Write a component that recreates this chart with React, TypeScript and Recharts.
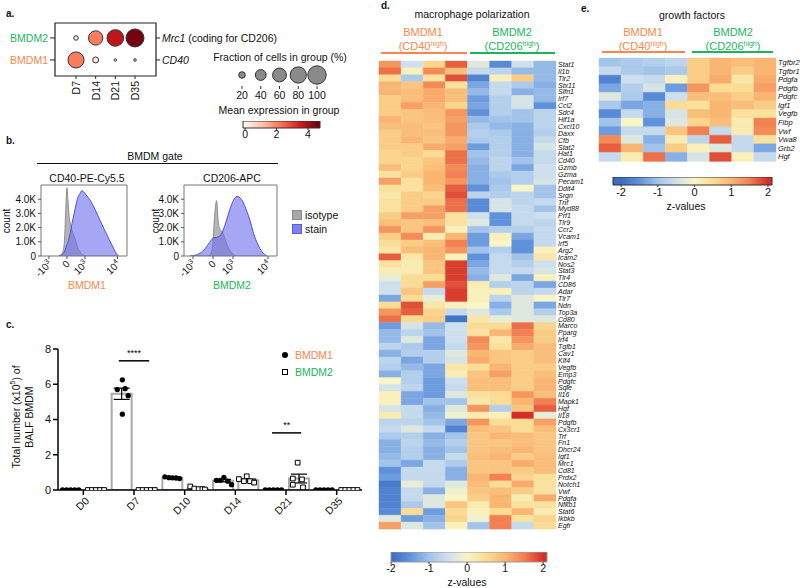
import React from "react";
import {
  ScatterChart,
  Scatter,
  XAxis,
  YAxis,
  ZAxis,
  Cell,
  ReferenceArea,
  ReferenceLine,
  ComposedChart,
  Area,
  BarChart,
  Bar,
  ErrorBar,
} from "recharts";

const FONT = '"Liberation Sans", Arial, sans-serif';
const ORANGE = "#f6884b";
const GREEN = "#1db55b";

// ---- panel a: dot plot ----
const dotDays = ["D7", "D14", "D21", "D35"];
const cd40Frac = [78, 18, 10, 10];
const cd40Expr = [2.1, 0.3, 0.1, 0.1];
const mrc1Frac = [14, 64, 83, 96];
const mrc1Expr = [0.3, 2.1, 3.7, 4.6];
const fracLegend = [20, 40, 60, 80, 100];
const exprTicks = [0, 2, 4];

// ---- panel b: histograms (x in logicle units, counts in K) ----
const cd40X = [-0.45, -0.3, -0.2, -0.12, -0.06, 0, 0.06, 0.12, 0.18, 0.28, 0.4, 0.5, 0.6, 0.72, 0.83, 0.94, 1.06, 1.3, 1.55, 1.8, 2.1, 2.4, 2.6, 2.75, 2.85];
const cd40Iso = [0, 0.1, 0.4, 1.5, 3.5, 4.8, 3.8, 2.8, 2.3, 1.8, 1.4, 1.0, 0.6, 0.3, 0.12, 0.05, 0, 0, 0, 0, 0, 0, 0, 0, 0];
const cd40Stain = [0, 0.1, 0.2, 0.35, 0.6, 0.8, 1.0, 1.3, 1.6, 2.3, 3.0, 3.6, 4.1, 4.4, 4.6, 4.5, 4.3, 3.9, 3.3, 2.6, 1.8, 1.0, 0.5, 0.15, 0];
const cd206X = [-1.15, -0.9, -0.65, -0.4, -0.25, -0.1, 0, 0.08, 0.18, 0.25, 0.33, 0.4, 0.5, 0.65, 0.8, 0.95, 1.1, 1.2, 1.35, 1.5, 1.65, 1.85, 2.05, 2.25, 2.45, 2.7];
const cd206Iso = [0, 0, 0, 0, 0, 0.2, 1.0, 2.8, 3.9, 2.6, 1.9, 1.8, 1.6, 1.0, 0.5, 0.2, 0.05, 0, 0, 0, 0, 0, 0, 0, 0, 0];
const cd206Stain = [0, 0.05, 0.2, 0.5, 0.8, 1.1, 1.25, 1.3, 1.3, 1.35, 1.4, 1.5, 1.8, 2.4, 3.1, 3.7, 4.1, 4.2, 4.1, 3.8, 3.3, 2.5, 1.5, 0.8, 0.3, 0];
const countTicks = [0, 1, 2, 3, 4];
const logBase = ["-10", "0", "10", "10"];
const logExp = ["3", "", "3", "4"];

// ---- panel c: BALF counts ----
const cDays = ["D0", "D7", "D10", "D14", "D21", "D35"];
const bmdm1Mean = [0, 5.46, 0.69, 0.53, 0, 0];
const bmdm1Sem = [0, 0.32, 0.02, 0.07, 0, 0];
const bmdm2Mean = [0, 0, 0.08, 0.56, 0.65, 0];
const bmdm2Sem = [0, 0, 0.03, 0.06, 0.25, 0];
const bmdm1Pts = [
  [0, 0, 0, 0, 0],
  [6.25, 5.7, 5.75, 5.35, 4.3],
  [0.75, 0.7, 0.69, 0.68, 0.65],
  [0.55, 0.55, 0.72, 0.5, 0.3],
  [0, 0, 0, 0, 0],
  [0, 0, 0, 0, 0],
];
const bmdm1Jit = [
  [-0.32, -0.16, 0, 0.16, 0.32],
  [0.04, -0.16, 0.15, 0.27, 0.04],
  [-0.28, -0.12, 0.02, 0.16, 0.3],
  [-0.25, -0.1, 0.05, 0.2, 0.35],
  [-0.32, -0.16, 0, 0.16, 0.32],
  [-0.32, -0.16, 0, 0.16, 0.32],
];
const bmdm2Pts = [
  [0, 0, 0, 0, 0],
  [0, 0, 0, 0, 0],
  [0.2, 0.08, 0.05, 0.05, 0.03],
  [0.62, 0.78, 0.5, 0.5, 0.42],
  [1.55, 0.65, 0.6, 0.3, 0.15],
  [0, 0, 0, 0, 0],
];
const bmdm2Jit = [
  [-0.32, -0.16, 0, 0.16, 0.32],
  [-0.32, -0.16, 0, 0.16, 0.32],
  [-0.28, -0.12, 0.05, 0.2, 0.3],
  [-0.36, -0.05, -0.16, 0.08, 0.24],
  [-0.04, -0.23, 0.13, -0.23, 0.17],
  [-0.32, -0.16, 0, 0.16, 0.32],
];

// ---- panel d: macrophage polarization heatmap ----
const genesD = [
  "Stat1", "Il1b", "Tlr2", "Stx11", "Slfn1", "Irf7", "Ccl2", "Sdc4", "Hif1a", "Cxcl10",
  "Daxx", "Cfb", "Stat2", "Hat1", "Cd40", "Gzmb", "Gzma", "Pecam1", "Ddit4", "Srgn",
  "Tnf", "Myd88", "Prf1", "Tlr9", "Ccr2", "Vcam1", "Irf5", "Arg2", "Icam2", "Nos2",
  "Stat3", "Tlr4", "CD86", "Adar", "Tlr7", "Ndn", "Top3a", "Cd80", "Marco", "Pparg",
  "Irf4", "Tgfb1", "Cav1", "Klf4", "Vegfb", "Emp3", "Pdgfc", "Sqle", "Il16", "Mapk1",
  "Hgf", "Il18", "Pdgfb", "Cx3cr1", "Trf", "Fn1", "Dhcr24", "Igf1", "Mrc1", "Cd81",
  "Prdx2", "Notch1", "Vwf", "Pdgfa", "Nfkb1", "Stat6", "Ikbkb", "Egfr",
];
const zD = [
  [1.3, -0.5, 0.6, 1.7, -0.3, -1.6, -0.5, -1.1],
  [1.6, 0.1, 1.4, 0.9, -0.6, -0.7, -1.1, -1.1],
  [0.5, -0.9, 0.4, 1.8, -1.7, 0.1, 0.7, -1.1],
  [1.0, 0.8, 1.4, 0.4, -1.3, -0.6, -0.9, -1.2],
  [1.0, 0.9, 1.1, 0.9, -1.1, -0.6, -1.2, -1.1],
  [0.7, 0.9, 1.1, 0.9, -1.4, -0.8, -0.4, -1.1],
  [0.7, 1.2, 1.0, 0.6, -1.3, -0.8, -0.4, -1.5],
  [0.7, 0.8, 0.9, 1.3, -1.5, -0.8, -1.0, -0.7],
  [1.0, 0.8, 0.9, 1.2, -1.1, -1.0, -1.0, -0.7],
  [0.9, 0.9, 0.8, 1.3, -0.9, -1.1, -1.2, -0.7],
  [0.7, 0.9, 0.9, 1.3, -0.8, -0.9, -1.2, -0.8],
  [0.7, 1.0, 0.8, 1.1, -0.9, -0.8, -1.2, -0.6],
  [0.7, 0.7, 1.1, 1.2, -1.4, -0.8, -1.2, -0.4],
  [0.6, 0.7, 0.5, 1.6, -1.0, -0.8, -1.2, -0.6],
  [0.6, 0.6, 0.8, 1.6, -1.1, -0.7, -1.0, -0.6],
  [0.9, 0.6, 0.9, 1.4, -1.2, -0.7, -1.3, -0.5],
  [0.4, 0.7, 1.0, 1.5, -1.2, -0.9, -0.8, -0.5],
  [1.2, 0.4, 1.0, 1.3, -1.2, -1.0, -0.8, -0.4],
  [0.4, 0.4, 0.9, 1.7, -1.5, -0.9, 0.0, -1.0],
  [0.3, 0.7, 0.6, 1.8, -0.7, -0.8, -0.7, -1.0],
  [0.4, 0.7, 0.7, 1.6, -1.6, -0.4, -0.7, -0.6],
  [0.4, 0.7, 1.2, 1.6, -1.6, -0.4, -0.6, -1.0],
  [0.7, 1.2, 1.2, 0.4, -0.5, -1.5, -0.6, -0.5],
  [0.9, 0.8, 0.9, 0.4, -0.3, -1.5, -0.6, -0.7],
  [1.3, 0.8, 1.3, 0.1, -1.0, -0.8, -0.8, -0.6],
  [0.7, 1.4, 0.2, 1.0, -1.4, 0.1, -1.3, -0.6],
  [0.5, 0.7, 0.9, 1.5, -1.4, 0.0, -1.5, -0.6],
  [0.3, 0.9, 1.0, 1.3, -1.0, -0.8, -1.5, 0.1],
  [1.7, 0.3, 1.0, 0.1, -1.5, -0.6, -1.0, 0.3],
  [0.4, 0.2, 0.8, 1.9, -1.3, -0.6, -0.8, -0.5],
  [0.2, 0.2, 0.8, 1.9, -1.1, -0.6, -0.6, -0.4],
  [-0.2, 0.5, 0.5, 1.9, -1.2, -0.3, -1.3, 0.1],
  [-0.5, 0.5, 1.2, 1.8, 0.2, -0.8, -0.7, -1.3],
  [-0.5, 0.8, -0.6, 1.9, 0.1, 0.1, -0.7, -0.6],
  [-1.3, 0.5, -0.2, 1.9, 0.1, -0.7, -0.3, 0.0],
  [0.5, 1.8, 0.3, 0.1, 0.0, -1.2, -0.3, -1.3],
  [1.3, 1.7, 0.6, -0.6, -0.3, -0.9, -0.3, -0.8],
  [1.6, 0.5, 0.7, -1.9, 0.3, -0.2, -0.3, -0.3],
  [-1.4, -0.4, -1.1, -0.5, 0.5, 0.5, 1.6, 0.6],
  [-1.1, -0.7, -1.0, -0.5, 0.4, 1.0, 1.5, 0.7],
  [-1.1, -0.3, -1.3, -0.5, 1.4, 0.3, 1.3, 0.7],
  [-0.7, -0.9, -1.3, -0.6, 1.3, 0.4, 1.1, 0.9],
  [-1.2, -0.8, -0.8, -0.3, 1.0, 0.8, 0.7, 0.9],
  [-0.7, -1.3, -0.8, -0.4, 1.1, 0.8, 0.7, 0.9],
  [-0.8, -1.1, -1.3, 0.3, 0.5, 1.0, 0.7, 0.7],
  [-1.2, -0.8, -1.3, 0.2, 0.8, 1.2, 0.7, 0.9],
  [0.0, -0.8, -1.4, -0.5, 0.9, 0.9, 0.7, 1.0],
  [-0.4, -0.7, -1.4, -0.6, 0.9, 0.9, 0.7, 1.0],
  [0.1, -1.3, -1.4, -0.3, 0.4, 0.5, 1.3, 0.9],
  [0.1, -1.3, -1.0, -1.0, 0.3, 0.5, 1.0, 1.5],
  [-0.4, -0.6, -1.2, -0.3, 1.3, -0.8, 0.8, 1.7],
  [0.2, -0.6, -1.1, -0.1, 0.2, 0.1, 2.0, -0.2],
  [-0.7, -0.7, -1.0, -1.3, 1.3, 0.5, 0.5, 1.2],
  [-0.6, -0.3, -0.6, -1.7, 0.9, 0.8, 0.5, 0.9],
  [-0.9, -0.8, -1.2, -1.0, 0.8, 1.0, 0.9, 0.8],
  [-1.2, -0.7, -1.1, -0.8, 0.8, 0.8, 0.9, 0.8],
  [-1.2, -0.8, -1.2, -1.0, 0.8, 0.9, 1.0, 0.8],
  [-1.1, -0.8, -1.2, -0.6, 0.9, 1.0, 0.7, 0.9],
  [-1.0, -1.3, -0.6, -0.9, 0.8, 0.8, 1.1, 0.9],
  [-1.5, -0.6, -0.6, -1.2, 0.8, 0.8, 0.7, 0.9],
  [-1.4, -0.6, -0.6, -1.2, 1.0, 1.5, 0.6, 0.4],
  [-1.8, -0.2, -0.6, -0.3, 0.9, 0.5, 1.1, 0.4],
  [-1.7, -0.6, -1.2, -0.1, 0.8, 0.9, 0.7, 0.4],
  [-1.7, -0.6, -0.3, 0.0, 0.7, 1.0, 0.2, 1.1],
  [-1.7, -0.9, -0.3, 0.8, 0.2, 1.0, 0.4, 0.4],
  [-1.6, 0.5, -1.4, 0.5, 0.1, 0.5, 1.0, 0.2],
  [-0.3, -1.4, -1.2, 0.6, -0.1, 1.5, 0.4, 0.6],
  [1.2, -0.3, -1.0, 0.1, -1.0, 1.5, -0.6, 0.5],
];

// ---- panel e: growth factors heatmap ----
const genesE = ["Tgfbr2", "Tgfbr1", "Pdgfa", "Pdgfb", "Pdgfc", "Igf1", "Vegfb", "Fibp", "Vwf", "Vwa8", "Grb2", "Hgf"];
const zE = [
  [-1.0, -0.9, -0.8, -0.7, 0.7, 1.0, 0.9, 1.0],
  [-0.6, -0.9, -1.0, -0.9, 0.7, 1.0, 0.7, 1.0],
  [-1.7, -0.5, -0.6, 0.1, 0.7, 1.1, 0.3, 1.1],
  [-1.3, -0.8, -0.4, -1.4, 1.3, 0.5, 0.5, 1.2],
  [-0.3, -0.9, -1.6, -0.5, 0.9, 0.9, 0.7, 1.0],
  [-0.9, -1.3, -1.2, 0.5, 0.4, 1.0, 0.9, 0.7],
  [-1.6, -0.6, -1.2, -0.4, 0.9, 1.0, 0.4, 0.4],
  [-1.0, 0.0, -1.5, -0.3, 0.6, 0.9, 0.2, 1.5],
  [-1.4, -0.6, -0.6, 0.8, 1.5, -0.6, 0.2, 1.4],
  [1.4, -0.3, -1.2, 0.2, -0.7, 1.7, -0.6, 0.4],
  [1.7, 1.0, -1.0, 0.7, 0.1, -0.3, -0.6, -1.3],
  [-0.6, 0.2, 1.6, -1.2, -0.4, 1.8, 0.1, -0.6],
];
const zTicks = [-2, -1, 0, 1, 2];

// colour maps
const zStops: [number, number[]][] = [
  [-2, [58, 108, 192]],
  [-1.5, [96, 146, 220]],
  [-1, [163, 196, 234]],
  [-0.5, [206, 224, 238]],
  [0, [248, 245, 198]],
  [0.5, [251, 220, 148]],
  [1, [249, 182, 115]],
  [1.5, [242, 128, 82]],
  [2, [212, 46, 38]],
];
const redStops: [number, number[]][] = [
  [0, [255, 245, 240]],
  [1.19, [252, 187, 161]],
  [2.38, [251, 106, 74]],
  [3.57, [203, 24, 29]],
  [4.76, [103, 0, 13]],
];

const rgb = (c: number[]) => `rgb(${c.map((v) => Math.round(v)).join(",")})`;

function ramp(stops: [number, number[]][], v: number) {
  if (v <= stops[0][0]) return rgb(stops[0][1]);
  for (let i = 1; i < stops.length; i++) {
    if (v <= stops[i][0]) {
      const [a, ca] = stops[i - 1];
      const [b, cb] = stops[i];
      const t = (v - a) / (b - a);
      return rgb(ca.map((c, k) => c + (cb[k] - c) * t));
    }
  }
  return rgb(stops[stops.length - 1][1]);
}

// absolutely placed text, y = vertical centre
function Txt({ x, y, size = 10.5, color = "#111", anchor = "middle", bold = false, rotate = 0, children }: any) {
  const tx = anchor === "middle" ? "-50%" : anchor === "end" ? "-100%" : "0";
  return (
    <div
      style={{
        position: "absolute",
        left: x,
        top: y,
        fontSize: size,
        color,
        fontWeight: bold ? 700 : 400,
        whiteSpace: "nowrap",
        lineHeight: 1,
        transform: `translate(${tx}, -50%)` + (rotate ? ` rotate(${rotate}deg)` : ""),
      }}
    >
      {children}
    </div>
  );
}

function HLine({ x1, x2, y, color = "#111", w = 1 }: any) {
  return <div style={{ position: "absolute", left: x1, top: y - w / 2, width: x2 - x1, height: w, background: color }} />;
}

// gradient bar drawn as a filled area over the value axis; pad keeps end labels inside the svg
function ColorBar({ id, left, top, width, barH, axisH, domain, ticks, stops, stroke, fontSize }: any) {
  const pad = 10;
  const span = domain[1] - domain[0];
  const rows = [
    { v: domain[0], h: 1 },
    { v: domain[1], h: 1 },
  ];
  return (
    <div style={{ position: "absolute", left: left - pad, top }}>
      <ComposedChart width={width + 2 * pad} height={barH + axisH} data={rows} margin={{ top: 0, right: pad, left: pad, bottom: 0 }}>
        <defs>
          <linearGradient id={id} x1="0" x2="1" y1="0" y2="0">
            {stops.map(([v, c]: any, i: number) => (
              <stop key={i} offset={Math.min(1, Math.max(0, (v - domain[0]) / span))} stopColor={rgb(c)} />
            ))}
          </linearGradient>
        </defs>
        <XAxis dataKey="v" type="number" domain={domain} ticks={ticks} interval={0} height={axisH} tickSize={2} tickMargin={1} axisLine={false} tickLine={{ stroke: "#333" }} tick={{ fontSize, fill: "#111" }} allowDataOverflow />
        <YAxis hide type="number" domain={[0, 1]} allowDataOverflow />
        <Area type="linear" dataKey="h" stroke="none" fill={`url(#${id})`} fillOpacity={1} isAnimationActive={false} dot={false} activeDot={false} />
        <ReferenceArea x1={domain[0]} x2={domain[1]} y1={0} y2={1} fill="none" stroke={stroke} strokeWidth={1} ifOverflow="visible" />
      </ComposedChart>
    </div>
  );
}

function Heatmap({ genes, z, left, top, width, height, margin, labelW, fontSize }: any) {
  const cols = [0, 1, 2, 3, 4, 5, 6, 7];
  const rows = genes.map((g: string) => {
    const r: any = { gene: g };
    cols.forEach((c) => (r["w" + c] = 1));
    return r;
  });
  return (
    <div style={{ position: "absolute", left, top }}>
      <BarChart layout="vertical" width={width} height={height} data={rows} margin={margin} barCategoryGap={0} barGap={0}>
        <XAxis type="number" domain={[0, 8]} hide />
        <YAxis type="category" dataKey="gene" orientation="right" width={labelW} interval={0} tickLine={false} axisLine={false} tickSize={0} tickMargin={2} tick={{ fontSize, fontStyle: "italic", fill: "#111" }} />
        {cols.map((c) => (
          <Bar key={c} dataKey={"w" + c} stackId="h" isAnimationActive={false}>
            {z.map((row: number[], i: number) => (
              <Cell key={i} fill={ramp(zStops, row[c])} stroke={ramp(zStops, row[c])} strokeWidth={0.4} />
            ))}
          </Bar>
        ))}
      </BarChart>
    </div>
  );
}

function GroupHeader({ c1, c2, l1, l2, r1, r2, lineY }: any) {
  return (
    <>
      <Txt x={c1} y={32} size={11} color={ORANGE}>BMDM1</Txt>
      <Txt x={c1} y={46} size={11} color={ORANGE}>(CD40<sup style={{ fontSize: 7 }}>high</sup>)</Txt>
      <Txt x={c2} y={32} size={11} color={GREEN}>BMDM2</Txt>
      <Txt x={c2} y={46} size={11} color={GREEN}>(CD206<sup style={{ fontSize: 7 }}>high</sup>)</Txt>
      <HLine x1={l1} x2={l2} y={lineY} color={ORANGE} w={2} />
      <HLine x1={r1} x2={r2} y={lineY} color={GREEN} w={2} />
    </>
  );
}

function PanelA() {
  const pts = [
    ...dotDays.map((_, i) => ({ x: i, y: 0, frac: cd40Frac[i], expr: cd40Expr[i] })),
    ...dotDays.map((_, i) => ({ x: i, y: 1, frac: mrc1Frac[i], expr: mrc1Expr[i] })),
  ];
  const leg = fracLegend.map((f) => ({ x: f, y: 0, frac: f }));
  const dayTick = ({ x, y, payload }: any) => (
    <text x={x} y={y} dy={4} transform={`rotate(-90 ${x} ${y})`} textAnchor="end" fontSize={10.5} fill="#111">
      {dotDays[payload.value]}
    </text>
  );
  const leftTick = ({ x, y, payload }: any) => (
    <text x={x} y={y} dy={4} textAnchor="end" fontSize={10.5} fill={payload.value === 1 ? GREEN : ORANGE}>
      {payload.value === 1 ? "BMDM2" : "BMDM1"}
    </text>
  );
  const rightTick = ({ x, y, payload }: any) => (
    <text x={x} y={y} dy={4} textAnchor="start" fontSize={10.5} fill="#111">
      {payload.value === 1 ? (
        <>
          <tspan fontStyle="italic">Mrc1</tspan> (coding for CD206)
        </>
      ) : (
        <tspan fontStyle="italic">CD40</tspan>
      )}
    </text>
  );
  return (
    <>
      <Txt x={6} y={14} size={10} bold anchor="start">a.</Txt>
      <div style={{ position: "absolute", left: 0, top: 0 }}>
        <ScatterChart width={360} height={115} margin={{ top: 23, right: 0, left: 0, bottom: 0 }}>
          <XAxis type="number" dataKey="x" domain={[-1.07, 4.07]} ticks={[0, 1, 2, 3]} interval={0} tick={dayTick} tickSize={3} tickLine={{ stroke: "#222" }} axisLine={false} height={39} allowDataOverflow />
          <YAxis type="number" dataKey="y" domain={[-0.73, 1.68]} ticks={[0, 1]} interval={0} tick={leftTick} width={55} tickSize={5} tickLine={{ stroke: "#222" }} axisLine={false} allowDataOverflow />
          <YAxis yAxisId="r" orientation="right" type="number" domain={[-0.73, 1.68]} ticks={[0, 1]} interval={0} tick={rightTick} width={204} tickSize={4} tickLine={{ stroke: "#222" }} axisLine={false} allowDataOverflow />
          <ZAxis type="number" dataKey="frac" domain={[10, 100]} range={[5, 266]} />
          <ReferenceArea x1={-1.07} x2={4.07} y1={-0.73} y2={1.68} fill="none" stroke="#222" strokeWidth={1.2} ifOverflow="visible" />
          <Scatter data={pts} shape="circle" stroke="#333" strokeWidth={1} isAnimationActive={false}>
            {pts.map((p, i) => (
              <Cell key={i} fill={ramp(redStops, p.expr)} />
            ))}
          </Scatter>
        </ScatterChart>
      </div>
      <Txt x={280} y={57}>Fraction of cells in group (%)</Txt>
      <div style={{ position: "absolute", left: 225, top: 62 }}>
        <ScatterChart width={110} height={45} margin={{ top: 2, right: 0, left: 0, bottom: 0 }}>
          <XAxis type="number" dataKey="x" domain={[1.87, 119.2]} ticks={fracLegend} interval={0} axisLine={false} tickSize={3} tickMargin={3} height={21} tick={{ fontSize: 10.5, fill: "#111" }} tickLine={{ stroke: "#333" }} allowDataOverflow />
          <YAxis type="number" dataKey="y" domain={[-1, 1]} hide />
          <ZAxis type="number" dataKey="frac" domain={[10, 100]} range={[5, 266]} />
          <Scatter data={leg} shape="circle" fill="#8a8a8a" stroke="#333" strokeWidth={1} isAnimationActive={false} />
        </ScatterChart>
      </div>
      <Txt x={279} y={110}>Mean expression in group</Txt>
      <ColorBar id="redsBar" left={243} top={121} width={77} barH={7} axisH={17} domain={[-0.13, 4.76]} ticks={exprTicks} stops={redStops} stroke="#333" fontSize={10.5} />
    </>
  );
}

function Histogram({ left, width, yW, xs, iso, stain, domain, ticks }: any) {
  const rows = xs.map((x: number, i: number) => ({ x, iso: iso[i], stain: stain[i] }));
  const logTick = ({ x, y, index }: any) => (
    <g transform={`translate(${x},${y}) rotate(-45)`}>
      <text x={0} y={0} dy={5} textAnchor="end" fontSize={10} fill="#111">
        {logBase[index]}
        {logExp[index] ? (
          <tspan dy={-4} fontSize={7}>
            {logExp[index]}
          </tspan>
        ) : null}
      </text>
    </g>
  );
  return (
    <div style={{ position: "absolute", left, top: 175 }}>
      <ComposedChart width={width} height={115} data={rows} margin={{ top: 10, right: 8, left: 0, bottom: 0 }}>
        <XAxis type="number" dataKey="x" domain={domain} ticks={ticks} interval={0} tick={logTick} tickSize={3} height={34} axisLine={false} tickLine={{ stroke: "#555" }} allowDataOverflow />
        <YAxis type="number" domain={[0, 5]} ticks={countTicks} interval={0} tickFormatter={(v: number) => (v === 0 ? "0" : v.toFixed(1) + "K")} width={yW} tickSize={3} axisLine={false} tickLine={{ stroke: "#555" }} tick={{ fontSize: 10, fill: "#111" }} allowDataOverflow />
        <Area type="monotone" dataKey="iso" stroke="#8d8d8d" strokeWidth={1} fill="#a8a8a8" fillOpacity={0.85} isAnimationActive={false} dot={false} activeDot={false} />
        <Area type="monotone" dataKey="stain" stroke="#4f4fdc" strokeWidth={1} fill="#6f6fee" fillOpacity={0.62} isAnimationActive={false} dot={false} activeDot={false} />
        <ReferenceArea x1={domain[0]} x2={domain[1]} y1={0} y2={5} fill="none" stroke="#777" strokeWidth={1} ifOverflow="visible" />
      </ComposedChart>
    </div>
  );
}

function PanelB() {
  return (
    <>
      <Txt x={6} y={141} size={10} bold anchor="start">b.</Txt>
      <Txt x={155} y={156}>BMDM gate</Txt>
      <HLine x1={37} x2={278} y={163} />
      <Txt x={87} y={178}>CD40-PE-Cy5.5</Txt>
      <Txt x={232} y={178}>CD206-APC</Txt>
      <Txt x={7} y={221} size={10} rotate={-90}>count</Txt>
      <Txt x={156} y={221} size={10} rotate={-90}>count</Txt>
      <Histogram left={0} width={135} yW={41} xs={cd40X} iso={cd40Iso} stain={cd40Stain} domain={[-1.44, 3.33]} ticks={[-1, 0, 1, 2.8]} />
      <Histogram left={140} width={145} yW={44} xs={cd206X} iso={cd206Iso} stain={cd206Stain} domain={[-1.45, 3.2]} ticks={[-1, 0, 1, 2.75]} />
      <Txt x={87} y={285} color={ORANGE}>BMDM1</Txt>
      <Txt x={232} y={285} color={GREEN}>BMDM2</Txt>
      <div style={{ position: "absolute", left: 292, top: 210, width: 10, height: 10, background: "#a8a8a8", border: "1px solid #8d8d8d", boxSizing: "border-box" }} />
      <Txt x={305} y={215} anchor="start">isotype</Txt>
      <div style={{ position: "absolute", left: 292, top: 224, width: 10, height: 10, background: "#8080f0", border: "1px solid #5b5bdc", boxSizing: "border-box" }} />
      <Txt x={305} y={229} anchor="start">stain</Txt>
    </>
  );
}

function PanelC() {
  // 12 slots: each day has a BMDM1 slot then a BMDM2 slot; slot k is centred on x = k + 0.5
  const slots = cDays.flatMap((d, i) => [
    { slot: d + "-1", y: bmdm1Mean[i], sem: bmdm1Sem[i] },
    { slot: d + "-2", y: bmdm2Mean[i], sem: bmdm2Sem[i] },
  ]);
  const pts1 = bmdm1Pts.flatMap((vals, i) => vals.map((v, k) => ({ x: 2 * i + 0.5 + bmdm1Jit[i][k], y: v })));
  const pts2 = bmdm2Pts.flatMap((vals, i) => vals.map((v, k) => ({ x: 2 * i + 1.5 + bmdm2Jit[i][k], y: v })));
  const dayTick = ({ x, y, index }: any) => (
    <g transform={`translate(${x + 3},${y + 1}) rotate(-45)`}>
      <text x={0} y={0} dy={5} textAnchor="end" fontSize={10.5} fill="#111">
        {cDays[index]}
      </text>
    </g>
  );
  return (
    <>
      <Txt x={6} y={325} size={10} bold anchor="start">c.</Txt>
      <div
        style={{
          position: "absolute",
          left: 21,
          top: 417,
          fontSize: 10.5,
          lineHeight: "13px",
          textAlign: "center",
          whiteSpace: "nowrap",
          transform: "translate(-50%, -50%) rotate(-90deg)",
        }}
      >
        Total number (x10<sup style={{ fontSize: 7 }}>5</sup>) of
        <br />
        BALF BMDM
      </div>
      <div style={{ position: "absolute", left: 0, top: 330 }}>
        <ComposedChart width={370} height={210} data={slots} margin={{ top: 19, right: 8, left: 0, bottom: 0 }}>
          <XAxis xAxisId="num" dataKey="x" type="number" domain={[0, 12]} ticks={[1, 3, 5, 7, 9, 11]} interval={0} tick={dayTick} height={50} tickSize={5} axisLine={{ stroke: "#000", strokeWidth: 1.5 }} tickLine={{ stroke: "#000", strokeWidth: 1.5 }} allowDataOverflow />
          <XAxis xAxisId="cat" dataKey="slot" type="category" hide height={0} />
          <YAxis dataKey="y" type="number" domain={[0, 8]} ticks={[0, 2, 4, 6, 8]} interval={0} width={58} tickSize={5} axisLine={{ stroke: "#000", strokeWidth: 1.5 }} tickLine={{ stroke: "#000", strokeWidth: 1.5 }} tick={{ fontSize: 11, fill: "#111" }} allowDataOverflow />
          <ZAxis range={[22, 22]} />
          <Bar xAxisId="cat" dataKey="y" fill="#fff" stroke="#a9a9a9" strokeWidth={2} barSize={20} isAnimationActive={false}>
            <ErrorBar dataKey="sem" width={8} stroke="#000" strokeWidth={1.2} direction="y" />
          </Bar>
          <Scatter xAxisId="num" data={pts1} shape="circle" fill="#000" isAnimationActive={false} />
          <Scatter xAxisId="num" data={pts2} shape="square" fill="#fff" stroke="#000" strokeWidth={1} isAnimationActive={false} />
          <ReferenceLine xAxisId="num" segment={[{ x: 2.4, y: 7.33 }, { x: 3.6, y: 7.33 }]} stroke="#000" strokeWidth={1.5} ifOverflow="visible" label={{ value: "****", position: "top", fontSize: 9, fill: "#000" }} />
          <ReferenceLine xAxisId="num" segment={[{ x: 8.45, y: 3.24 }, { x: 9.6, y: 3.24 }]} stroke="#000" strokeWidth={1.5} ifOverflow="visible" label={{ value: "**", position: "top", fontSize: 9, fill: "#000" }} />
        </ComposedChart>
      </div>
      <div style={{ position: "absolute", left: 282, top: 352, width: 6, height: 6, borderRadius: 3, background: "#000" }} />
      <Txt x={295} y={355} anchor="start" color={ORANGE}>BMDM1</Txt>
      <div style={{ position: "absolute", left: 282, top: 369, width: 6, height: 6, border: "1px solid #000", boxSizing: "border-box" }} />
      <Txt x={295} y={372} anchor="start" color={GREEN}>BMDM2</Txt>
    </>
  );
}

function PanelD() {
  return (
    <>
      <Txt x={381} y={6} size={10} bold anchor="start">d.</Txt>
      <Txt x={472} y={14}>macrophage polarization</Txt>
      <GroupHeader c1={423} c2={512} l1={381} l2={467} r1={470} r2={555} lineY={53} />
      <Heatmap genes={genesD} z={zD} left={370} top={55} width={230} height={480} margin={{ top: 6, right: 0, left: 9, bottom: 6 }} labelW={44} fontSize={7} />
      <ColorBar id="zBarD" left={391} top={552} width={156} barH={10} axisH={15} domain={[-2, 2.1]} ticks={zTicks} stops={zStops} stroke="#999" fontSize={10.5} />
      <Txt x={467} y={582}>z-values</Txt>
    </>
  );
}

function PanelE() {
  return (
    <>
      <Txt x={581} y={9} size={10} bold anchor="start">e.</Txt>
      <Txt x={692} y={15}>growth factors</Txt>
      <GroupHeader c1={643} c2={733} l1={602} l2={685} r1={692} r2={773} lineY={52} />
      <Heatmap genes={genesE} z={zE} left={590} top={50} width={210} height={120} margin={{ top: 8, right: 0, left: 9, bottom: 9 }} labelW={24} fontSize={7.5} />
      <ColorBar id="zBarE" left={613} top={177} width={159} barH={8} axisH={16} domain={[-2.22, 2.11]} ticks={zTicks} stops={zStops} stroke="#333" fontSize={11} />
      <Txt x={686} y={206}>z-values</Txt>
    </>
  );
}

export default function App() {
  return (
    <div
      style={{
        position: "absolute",
        left: 0,
        top: 0,
        width: 800,
        height: 588,
        background: "#fff",
        fontFamily: FONT,
        color: "#111",
        overflow: "hidden",
      }}
    >
      <PanelA />
      <PanelB />
      <PanelC />
      <PanelD />
      <PanelE />
    </div>
  );
}
